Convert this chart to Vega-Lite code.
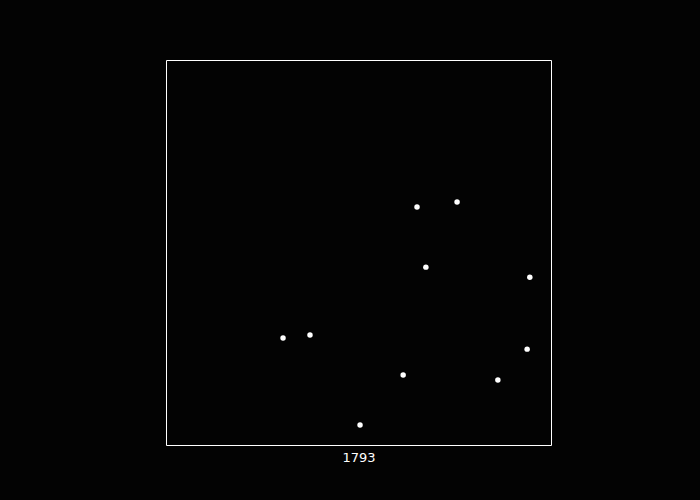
{
  "$schema": "https://vega.github.io/schema/vega-lite/v6.json",
  "width": 385,
  "height": 385,
  "autosize": {"type": "none"},
  "padding": {"left": 166, "top": 60, "right": 149, "bottom": 55},
  "background": "#030303",
  "config": {
    "view": {"stroke": "#ffffff", "strokeWidth": 1, "fill": "#030303"}
  },
  "data": {
    "values": [
      {"x": 0.652, "y": 0.618},
      {"x": 0.756, "y": 0.631},
      {"x": 0.675, "y": 0.462},
      {"x": 0.945, "y": 0.436},
      {"x": 0.304, "y": 0.278},
      {"x": 0.374, "y": 0.286},
      {"x": 0.938, "y": 0.249},
      {"x": 0.616, "y": 0.182},
      {"x": 0.862, "y": 0.169},
      {"x": 0.504, "y": 0.052}
    ]
  },
  "mark": {"type": "circle", "color": "#ffffff", "opacity": 1, "size": 30},
  "encoding": {
    "x": {
      "field": "x", "type": "quantitative",
      "scale": {"domain": [0, 1]},
      "axis": {"title": "1793", "domain": false, "ticks": false, "labels": false, "grid": false,
               "titleFont": "DejaVu Sans", "titleFontSize": 13, "titleFontWeight": "normal",
               "titleColor": "#ffffff", "titlePadding": 6}
    },
    "y": {
      "field": "y", "type": "quantitative",
      "scale": {"domain": [0, 1]},
      "axis": null
    }
  }
}
